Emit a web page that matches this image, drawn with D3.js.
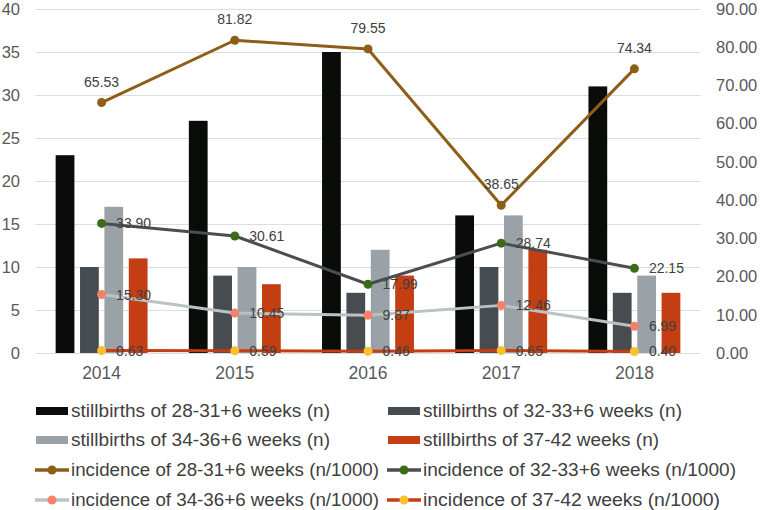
<!DOCTYPE html>
<html><head><meta charset="utf-8">
<script src="https://cdn.jsdelivr.net/npm/d3@7"></script>
<style>body{margin:0;background:#fff}svg{display:block}</style>
</head><body><svg id="c" width="761" height="510"></svg>
<script>
const years = ["2014","2015","2016","2017","2018"];
const barNames = ["stillbirths of 28-31+6 weeks (n)","stillbirths of 32-33+6 weeks (n)","stillbirths of 34-36+6 weeks (n)","stillbirths of 37-42 weeks (n)"];
const bar2831 = [23,27,35,16,31];
const bar3233 = [10,9,7,10,7];
const bar3436 = [17,10,12,16,9];
const bar3742 = [11,8,9,12,7];
const lineNames = ["incidence of 28-31+6 weeks (n/1000)","incidence of 32-33+6 weeks (n/1000)","incidence of 34-36+6 weeks (n/1000)","incidence of 37-42 weeks (n/1000)"];
const inc2831 = [65.53,81.82,79.55,38.65,74.34];
const inc3233 = [33.90,30.61,17.99,28.74,22.15];
const inc3436 = [15.30,10.45,9.87,12.46,6.99];
const inc3742 = [0.63,0.59,0.46,0.65,0.40];
const leftTicks = [0,5,10,15,20,25,30,35,40];
const rightTicks = [0,10,20,30,40,50,60,70,80,90];

const barColors = ["#0a0c0a","#474c50","#9aa2a8","#c33e12"];
const lineColors = ["#8c5e18","#4a4e52","#b9c3c5","#c33e12"];
const markerColors = ["#8c5e18","#3d6b15","#f4826a","#f9c12e"];

const svg = d3.select("#c");
const L=35, R=701, T=9, B=353;
const x = d3.scaleBand().domain(years).range([L,R]).paddingInner(0).paddingOuter(0);
const yL = d3.scaleLinear().domain([0,40]).range([B,T]);
const yR = d3.scaleLinear().domain([0,90]).range([B,T]);
const sub = d3.scaleBand().domain([0,1,2,3]).range([0,x.bandwidth()*0.69]).paddingInner(0.23);
const off = (x.bandwidth()-x.bandwidth()*0.69)/2;
const font = "'Liberation Sans', Arial, sans-serif";

// gridlines
svg.append("g").selectAll("line").data(leftTicks).join("line")
  .attr("x1",L).attr("x2",R).attr("y1",d=>yL(d)+0.5).attr("y2",d=>yL(d)+0.5)
  .attr("stroke","#d9dfe1").attr("stroke-width",1.2);

// left axis
const axL = svg.append("g").attr("transform",`translate(${L},0)`)
  .call(d3.axisLeft(yL).tickValues(leftTicks).tickSize(0).tickPadding(15));
axL.select(".domain").remove();
axL.selectAll("text").attr("font-family",font).attr("font-size",16.5).attr("fill","#595959");

// right axis
const axR = svg.append("g").attr("transform",`translate(${R},0)`)
  .call(d3.axisRight(yR).tickValues(rightTicks).tickSize(0).tickPadding(15).tickFormat(d3.format(".2f")));
axR.select(".domain").remove();
axR.selectAll("text").attr("font-family",font).attr("font-size",16.5).attr("fill","#595959");

// x axis
const axX = svg.append("g").attr("transform",`translate(0,${B})`)
  .call(d3.axisBottom(x).tickSize(0).tickPadding(14));
axX.select(".domain").remove();
axX.selectAll("text").attr("font-family",font).attr("font-size",17.5).attr("fill","#595959");

// bars
const bars = [bar2831,bar3233,bar3436,bar3742];
bars.forEach((arr,i)=>{
  svg.append("g").selectAll("rect").data(arr).join("rect")
    .attr("x",(d,j)=>x(years[j])+off+sub(i))
    .attr("width",sub.bandwidth())
    .attr("y",d=>yL(d))
    .attr("height",d=>yL(0)-yL(d))
    .attr("fill",barColors[i]);
});

// lines
const lines = [inc2831,inc3233,inc3436,inc3742];
const cx = j => x(years[j])+x.bandwidth()/2;
const lineGen = d3.line().x((d,j)=>cx(j)).y(d=>yR(d));
const order = [3,2,1,0];
order.forEach(i=>{
  const arr = lines[i];
  svg.append("path").datum(arr).attr("d",lineGen).attr("fill","none")
    .attr("stroke",lineColors[i]).attr("stroke-width",3).attr("stroke-linejoin","round");
  svg.append("g").selectAll("circle").data(arr).join("circle")
    .attr("cx",(d,j)=>cx(j)).attr("cy",d=>yR(d)).attr("r",4.5).attr("fill",markerColors[i]);
});
// labels
order.forEach(i=>{
  const arr = lines[i];
  svg.append("g").selectAll("text").data(arr).join("text")
    .attr("x",(d,j)=> i===0 ? cx(j) : cx(j)+14.5)
    .attr("y",d=> i===0 ? yR(d)-16 : yR(d)+5)
    .attr("text-anchor", i===0 ? "middle" : "start")
    .attr("font-family",font).attr("font-size",14).attr("fill","#404040")
    .text(d=>d3.format(".2f")(d));
});

// legend
const legItems = [
  {n:barNames[0],type:"bar",i:0,w:259},{n:barNames[1],type:"bar",i:1,w:259},
  {n:barNames[2],type:"bar",i:2,w:259},{n:barNames[3],type:"bar",i:3,w:236},
  {n:lineNames[0],type:"line",i:0,w:308},{n:lineNames[1],type:"line",i:1,w:313},
  {n:lineNames[2],type:"line",i:2,w:308},{n:lineNames[3],type:"line",i:3,w:297}
];
const colX = [36,388], rowY = [411,440,470,500];
legItems.forEach((it,k)=>{
  const gx = colX[k%2], gy = rowY[Math.floor(k/2)];
  const g = svg.append("g").attr("transform",`translate(${gx},${gy})`);
  if(it.type==="bar"){
    g.append("rect").attr("x",0).attr("y",-4).attr("width",32).attr("height",8).attr("fill",barColors[it.i]);
  } else {
    g.append("line").attr("x1",-1).attr("x2",33).attr("y1",0).attr("y2",0).attr("stroke",lineColors[it.i]).attr("stroke-width",3.5);
    g.append("circle").attr("cx",16).attr("cy",0).attr("r",4.5).attr("fill",markerColors[it.i]);
  }
  g.append("text").attr("x",35).attr("y",6).attr("font-family",font).attr("font-size",17.5)
    .attr("fill","#404040").attr("textLength",it.w).attr("lengthAdjust","spacingAndGlyphs").text(it.n);
});
</script></body></html>
